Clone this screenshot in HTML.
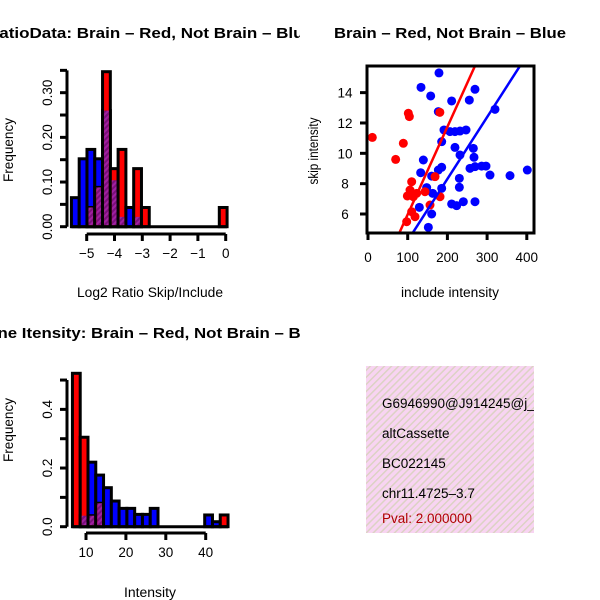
<!DOCTYPE html>
<html><head><meta charset="utf-8"><style>
html,body{margin:0;padding:0;background:#fff;}
svg{display:block;font-family:"Liberation Sans",sans-serif;}
</style></head><body>
<svg id="c" width="600" height="600" viewBox="0 0 600 600" xmlns="http://www.w3.org/2000/svg">
<defs>
<pattern id="purp" width="4" height="4" patternUnits="userSpaceOnUse" patternTransform="rotate(45)">
<rect width="4" height="4" fill="#a020a0"/><rect width="2" height="4" fill="#7a107a"/></pattern>
<pattern id="pink" width="5" height="5" patternUnits="userSpaceOnUse" patternTransform="rotate(45)">
<rect width="5" height="5" fill="#f8d4f2"/><rect width="1.5" height="5" fill="#dcd2c4"/></pattern>
<clipPath id="clipSc"><rect x="367" y="66" width="167" height="167"/></clipPath>
<clipPath id="clipInfo"><rect x="366" y="366" width="168" height="167"/></clipPath>
<clipPath id="clipLeft"><rect x="0" y="0" width="300" height="600"/></clipPath>
</defs>
<g clip-path="url(#clipLeft)">
<g id="p1"></g>
<g id="p3"></g>
</g>
<g id="p2"></g>
<g id="p4">
<rect x="366" y="366" width="168" height="167" fill="url(#pink)"/>
<g clip-path="url(#clipInfo)" font-size="13.5">
<text x="382" y="408">G6946990@J914245@j_at</text>
<text x="382" y="438">altCassette</text>
<text x="382" y="468">BC022145</text>
<text x="382" y="498">chr11.4725–3.7</text>
<text x="382" y="523" fill="#b00000">Pval: 2.000000</text>
</g></g>
</svg>
<script>
// Panel 1: ratio histogram
const ratioBinStart = -5.55, ratioBinWidth = 0.28;
const ratioBlue = [0.065,0.152,0.173,0.152,0.26,0.104,0.022,0.043,0.022,0,0,0,0,0,0,0,0,0,0,0];
const ratioRed  = [0,0,0.043,0.088,0.347,0.13,0.173,0,0.13,0.043,0,0,0,0,0,0,0,0,0,0.043];
const ratioXTicks = [-5,-4,-3,-2,-1,0];
const ratioXLabels = ["−5","−4","−3","−2","−1","0"];
const ratioYTicks = [0,0.05,0.1,0.15,0.2,0.25,0.3,0.35];
const ratioYLabels = ["0.00","0.10","0.20","0.30"];
const ratioYLabelVals = [0,0.1,0.2,0.3];
// Panel 2: scatter
const blueX = [178.8,133.5,157.9,210.7,255.2,269.5,177.2,319.9,191.4,206.5,219.1,231.7,246.9,185.6,219.1,265.3,231.7,267,139.4,185.6,177.2,256.9,269.5,286.3,297.2,307.3,357.7,401.3,132.7,160.4,230.1,230.1,185.6,147.8,162.9,210.7,223.3,240.1,269.5,129.3,160.4,152];
const blueY = [15.3,14.35,13.78,13.45,13.51,14.22,12.75,12.9,11.54,11.43,11.43,11.47,11.54,10.77,10.39,10.33,9.89,9.74,9.56,9.08,8.9,9.01,9.12,9.16,9.16,8.57,8.53,8.9,8.72,8.5,8.35,7.76,7.69,7.74,7.36,6.66,6.55,6.81,6.81,6.44,6.0,5.12];
const redX = [101.6,104.1,10.9,89,69.7,110,105.8,99.1,114.2,122.6,181.4,168.8,156.2,110,118.4,97.4,143.6,181];
const redY = [12.64,12.42,11.05,10.66,9.6,8.13,7.58,7.19,7.14,7.36,7.14,8.46,6.59,6.15,5.82,5.49,7.47,12.7];
const redFit = [0.192,0.05777];
const blueFit = [0.169,0.04072];
const scXTicks = [0,100,200,300,400];
const scYTicks = [6,8,10,12,14];
// Panel 3: intensity histogram
const intBinStart = 6.6, intBinWidth = 1.95;
const intBlue = [0,0.0375,0.22,0.176,0.133,0.0875,0.0625,0.0625,0.042,0.042,0.0625,0,0,0,0,0,0,0.04,0.017,0];
const intRed  = [0.523,0.305,0.0375,0.08,0,0,0,0,0,0,0,0,0,0,0,0,0,0,0,0.04];
const intXTicks = [10,20,30,40];
const intYTicks = [0,0.1,0.2,0.3,0.4,0.5];
const intYLabelVals = [0,0.2,0.4];
const intYLabels = ["0.0","0.2","0.4"];

const NS="http://www.w3.org/2000/svg";
function mk(parent,tag,attrs,txt){const e=document.createElementNS(NS,tag);for(const k in attrs)e.setAttribute(k,attrs[k]);if(txt!==undefined)e.textContent=txt;parent.appendChild(e);return e;}

function histogram(g,binStart,binW,blue,red,xs,ys){
  for(let i=0;i<blue.length;i++){
    const x0=xs(binStart+i*binW), x1=xs(binStart+(i+1)*binW);
    const b=blue[i], r=red[i], m=Math.min(b,r);
    if(b>0){const e=mk(g,'rect',{x:x0,y:ys(b),width:x1-x0,height:ys(0)-ys(b),fill:'#0000ff',stroke:'#000','stroke-width':3});
      
      }
    if(r>0){const e=mk(g,'rect',{x:x0,y:ys(r),width:x1-x0,height:ys(0)-ys(r),fill:'#ff0000',stroke:'#000','stroke-width':3});
      
      }
    if(m>0){const e=mk(g,'rect',{x:x0+1.5,y:ys(m),width:x1-x0-3,height:ys(0)-ys(m)-1.5,fill:'url(#purp)'});
      
      }
  }
  const bl=mk(g,'line',{x1:xs(binStart),x2:xs(binStart+blue.length*binW),y1:ys(0),y2:ys(0),stroke:'#000','stroke-width':3});
  
  
}
function yAxis(g,ax,ys,ticks,lvals,labels,name){
  const a=mk(g,'line',{x1:ax,x2:ax,y1:ys(ticks[0]),y2:ys(ticks[ticks.length-1]),stroke:'#000','stroke-width':3});
  
  
  ticks.forEach(t=>mk(g,'line',{x1:ax-7,x2:ax,y1:ys(t),y2:ys(t),stroke:'#000','stroke-width':3}));
  lvals.forEach((v,i)=>{const t=mk(g,'text',{x:ax-15,y:ys(v),'font-size':13.5,'text-anchor':'middle',transform:`rotate(-90 ${ax-15} ${ys(v)})`},labels[i]);
    
    });
}
function xAxis(g,ay,xs,ticks,labels,name){
  const a=mk(g,'line',{x1:xs(ticks[0]),x2:xs(ticks[ticks.length-1]),y1:ay,y2:ay,stroke:'#000','stroke-width':3});
  
  
  ticks.forEach((t,i)=>{mk(g,'line',{x1:xs(t),x2:xs(t),y1:ay,y2:ay+7,stroke:'#000','stroke-width':3});
    const l=mk(g,'text',{x:xs(t),y:ay+24,'font-size':13.5,'text-anchor':'middle'},labels[i]);
    
    });
}
function label(g,x,y,txt,name,opts){const t=mk(g,'text',Object.assign({x:x,y:y,'text-anchor':'middle','font-size':13.5,lengthAdjust:'spacingAndGlyphs'},opts||{}),txt);
  
  return t;}

// Panel 1
{const g=document.getElementById('p1');
 const xs=v=>225.7+v*27.8, ys=v=>226.7-v*446.7;
 histogram(g,ratioBinStart,ratioBinWidth,ratioBlue,ratioRed,xs,ys);
 yAxis(g,67,ys,ratioYTicks,ratioYLabelVals,ratioYLabels,'y-axis');
 xAxis(g,234,xs,ratioXTicks,ratioXLabels,'x-axis');
 label(g,150,38,'RatioData: Brain – Red, Not Brain – Blue','chart-title',{'font-size':15,'font-weight':'bold',textLength:326});
 label(g,150,297,'Log2 Ratio Skip/Include','x-axis-title',{textLength:146});
 label(g,13,150,'Frequency','y-axis-title',{transform:'rotate(-90 13 150)',textLength:64});}

// Panel 2
{const g=document.getElementById('p2');
 const xs=v=>368+v*0.397, ys=v=>214-(v-6)*15.17;
 const cg=mk(g,'g',{'clip-path':'url(#clipSc)'});
 blueX.forEach((x,i)=>{const c=mk(cg,'circle',{cx:xs(x),cy:ys(blueY[i]),r:4.5,fill:'#0000ff'});
   
   });
 redX.forEach((x,i)=>{const c=mk(cg,'circle',{cx:xs(x),cy:ys(redY[i]),r:4.5,fill:'#ff0000'});
   
   });
 [[redFit,'#ff0000','red-fit-line'],[blueFit,'#0000ff','blue-fit-line']].forEach(([f,col,nm])=>{
   const l=mk(cg,'line',{x1:xs(-20),y1:ys(f[0]+f[1]*-20),x2:xs(450),y2:ys(f[0]+f[1]*450),stroke:col,'stroke-width':2.5});
   
   });
 const b=mk(g,'rect',{x:367,y:66,width:167,height:167,fill:'none',stroke:'#000','stroke-width':3});
 
 
 scXTicks.forEach(t=>{mk(g,'line',{x1:xs(t),x2:xs(t),y1:233,y2:240,stroke:'#000','stroke-width':3});
   const l=mk(g,'text',{x:xs(t),y:262,'font-size':13.5,'text-anchor':'middle'},String(t));
   
   });
 scYTicks.forEach(t=>{mk(g,'line',{x1:360,x2:367,y1:ys(t),y2:ys(t),stroke:'#000','stroke-width':3});
   const l=mk(g,'text',{x:345,y:ys(t)+5,'font-size':13.5,'text-anchor':'middle'},String(t));
   
   });
 label(g,450,38,'Brain – Red, Not Brain – Blue','chart-title',{'font-size':15,'font-weight':'bold',textLength:232});
 label(g,450,297,'include intensity','x-axis-title',{textLength:98});
 label(g,318,151,'skip intensity','y-axis-title',{transform:'rotate(-90 318 151)',textLength:67});}

// Panel 3
{const g=document.getElementById('p3');
 const xs=v=>86+(v-10)*3.99, ys=v=>526.7-v*293.3;
 histogram(g,intBinStart,intBinWidth,intBlue,intRed,xs,ys);
 yAxis(g,67,ys,intYTicks,intYLabelVals,intYLabels,'y-axis');
 xAxis(g,533,xs,intXTicks,intXTicks.map(String),'x-axis');
 label(g,150,338,'Gene Itensity: Brain – Red, Not Brain – Blue','chart-title',{'font-size':15,'font-weight':'bold',textLength:350});
 label(g,150,597,'Intensity','x-axis-title',{textLength:52});
 label(g,13,430,'Frequency','y-axis-title',{transform:'rotate(-90 13 430)',textLength:64});}
</script>
</body></html>
